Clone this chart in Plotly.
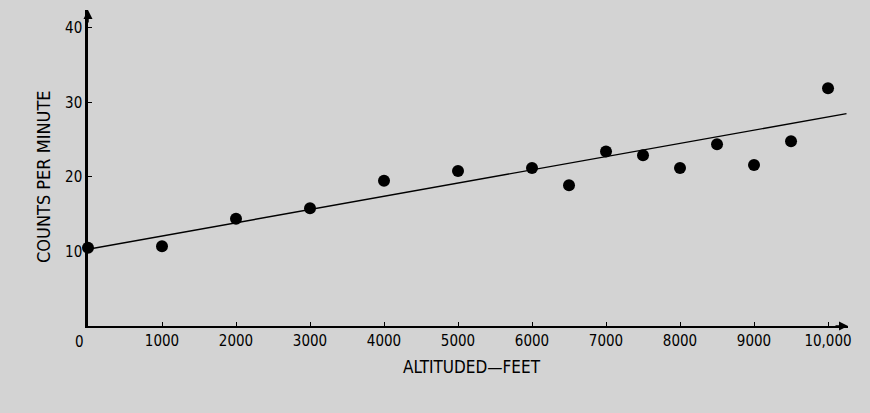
import plotly.graph_objects as go

altitude_ft = [0, 1000, 2000, 3000, 4000, 5000, 6000, 6500, 7000, 7500, 8000, 8500, 9000, 9500, 10000]
counts_per_min = [10.5, 10.7, 14.4, 15.8, 19.5, 20.8, 21.2, 18.9, 23.4, 22.9, 21.2, 24.4, 21.6, 24.8, 31.9]

fit_x = [0, 10250]
fit_y = [10.3, 28.5]

x_tickvals = [1000, 2000, 3000, 4000, 5000, 6000, 7000, 8000, 9000, 10000]
x_ticktext = ["1000", "2000", "3000", "4000", "5000", "6000", "7000", "8000", "9000", "10,000"]
y_tickvals = [10, 20, 30, 40]
y_ticktext = ["10", "20", "30", "40"]

FONT = "DejaVu Sans Condensed, sans-serif"
BG = "#d3d3d3"

W, H = 870, 413
ML, MR, MT, MB = 88, 22, 10, 87
pw = W - ML - MR
ph = H - MT - MB

fig = go.Figure()
fig.add_trace(go.Scatter(x=fit_x, y=fit_y, mode="lines",
                         line=dict(color="black", width=1.4), hoverinfo="skip"))
fig.add_trace(go.Scatter(x=altitude_ft, y=counts_per_min, mode="markers",
                         marker=dict(color="black", size=12), cliponaxis=False))

fig.update_layout(
    width=W, height=H,
    margin=dict(l=ML, r=MR, t=MT, b=MB),
    paper_bgcolor=BG, plot_bgcolor=BG,
    showlegend=False,
    font=dict(family=FONT, color="black", size=15),
    xaxis=dict(range=[0, 10270], showgrid=False, zeroline=False,
               showline=True, linecolor="black", linewidth=2,
               ticks="inside", ticklen=4, tickcolor="black",
               tickvals=x_tickvals, ticktext=x_ticktext,
               tickfont=dict(family=FONT, size=15)),
    yaxis=dict(range=[0, 42.4], showgrid=False, zeroline=False,
               showline=True, linecolor="black", linewidth=2.5,
               ticks="inside", ticklen=4, tickcolor="black",
               tickvals=y_tickvals, ticktext=y_ticktext,
               tickfont=dict(family=FONT, size=15)),
    annotations=[
        dict(text="0", x=0, xref="x", y=0, yref="paper", yanchor="top",
             xshift=-9, yshift=-5, showarrow=False, font=dict(family=FONT, size=15)),
        dict(text="ALTITUDED\u2014FEET", x=(472 - ML) / pw, xref="paper",
             y=(H - MB - 367) / ph, yref="paper", xanchor="center", yanchor="middle",
             showarrow=False, font=dict(family=FONT, size=17)),
        dict(text="COUNTS PER MINUTE", x=(44 - ML) / pw, xref="paper",
             y=(H - MB - 177) / ph, yref="paper", xanchor="center", yanchor="middle",
             textangle=-90, showarrow=False, font=dict(family=FONT, size=18)),
        # arrowheads at axis ends
        dict(x=1.0, y=0, xref="paper", yref="paper", ax=-14, ay=0, showarrow=True,
             arrowhead=2, arrowsize=1.2, arrowwidth=1.5, arrowcolor="black", text=""),
        dict(x=0, y=1.0, xref="paper", yref="paper", ax=0, ay=14, showarrow=True,
             arrowhead=2, arrowsize=1.2, arrowwidth=1.5, arrowcolor="black", text=""),
    ],
)

fig.write_html("out.html", config={"displayModeBar": False},
               post_script="document.body.style.margin='0';document.body.style.padding='0';")
